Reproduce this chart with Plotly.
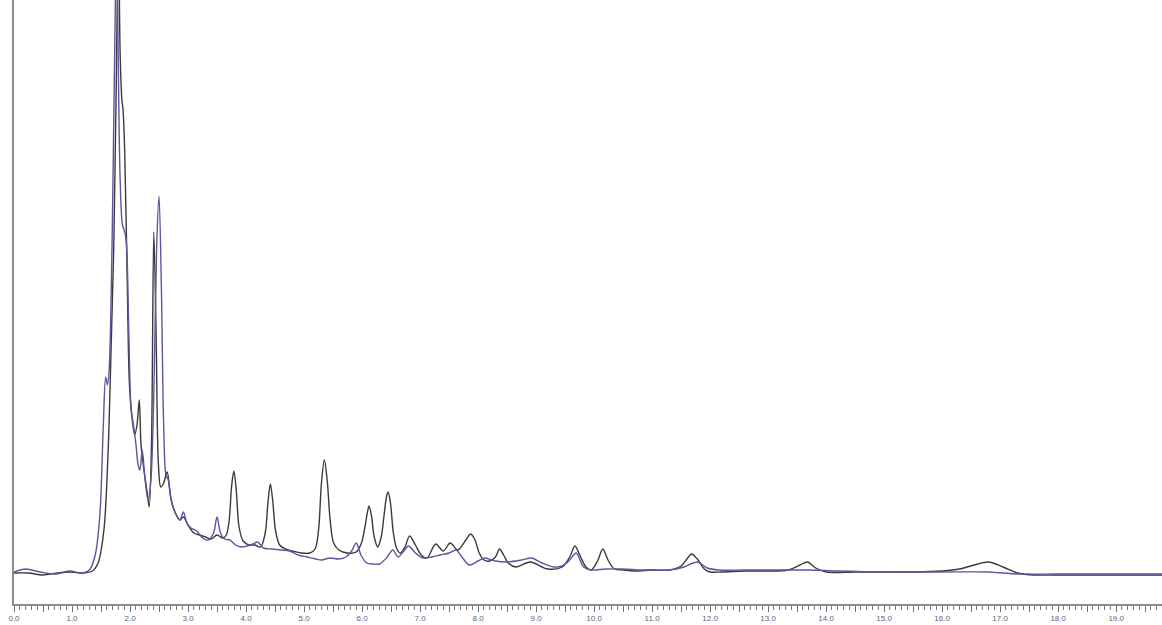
import plotly.graph_objects as go

# Retention time (min) and detector signal for the two overlaid runs
time_black = [0.00, 0.25, 0.50, 0.75, 0.97, 1.20, 1.35, 1.45, 1.55, 1.62, 1.68, 1.72, 1.76, 1.80,
              1.83, 1.86, 1.88, 1.91, 1.95, 1.99, 2.03, 2.08, 2.12, 2.16, 2.19, 2.24, 2.29, 2.33,
              2.37, 2.41, 2.45, 2.49, 2.53, 2.58, 2.64, 2.70, 2.78, 2.86, 2.92, 3.00, 3.10, 3.20,
              3.30, 3.40, 3.50, 3.60, 3.66, 3.71, 3.75, 3.79, 3.83, 3.88, 3.95, 4.05, 4.15, 4.25,
              4.33, 4.38, 4.42, 4.46, 4.51, 4.58, 4.68, 4.80, 4.95, 5.10, 5.19, 5.25, 5.30, 5.35,
              5.40, 5.45, 5.51, 5.60, 5.75, 5.90, 5.99, 6.05, 6.09, 6.12, 6.16, 6.21, 6.27, 6.33,
              6.38, 6.42, 6.45, 6.49, 6.54, 6.60, 6.66, 6.74, 6.82, 6.92, 7.02, 7.12, 7.27, 7.40,
              7.52, 7.65, 7.80, 7.87, 7.94, 8.02, 8.10, 8.20, 8.30, 8.37, 8.44, 8.52, 8.65, 8.90,
              9.20, 9.45, 9.58, 9.67, 9.76, 9.86, 9.95, 10.06, 10.15, 10.24, 10.35, 10.50, 10.70,
              11.00, 11.30, 11.50, 11.60, 11.68, 11.78, 11.90, 12.00, 12.20, 12.60, 13.00, 13.35,
              13.55, 13.68, 13.82, 14.00, 14.50, 15.00, 15.50, 16.00, 16.30, 16.55, 16.80, 17.05,
              17.30, 17.60, 18.00, 19.00, 19.85]
signal_black = [2, 2, 0, 2, 3, 2, 4, 12, 45, 120, 240, 330, 480, 640,
                520, 475, 465, 420, 300, 190, 160, 140, 150, 175, 130, 105, 85, 68,
                130, 343, 240, 110, 88, 92, 103, 78, 62, 55, 58, 50, 42, 40,
                38, 36, 40, 37, 40, 55, 88, 104, 86, 48, 34, 30, 30, 28,
                42, 74, 91, 74, 44, 30, 26, 24, 22, 22, 26, 45, 92, 115,
                94, 55, 32, 25, 22, 23, 32, 48, 62, 69, 60, 38, 28, 38,
                60, 78, 83, 72, 42, 26, 22, 28, 39, 30, 20, 17, 31, 24,
                32, 25, 36, 41, 36, 22, 15, 14, 18, 26, 20, 12, 8, 13,
                6, 8, 18, 29, 19, 8, 5, 14, 26, 15, 6, 5, 4,
                5, 5, 9, 16, 21, 16, 6, 3, 3, 4, 4, 5,
                10, 13, 7, 3, 3, 3, 3, 4, 6, 10, 13, 8,
                2, 0, 0, 0, 0]

time_purple = [0.00, 0.20, 0.45, 0.70, 0.97, 1.15, 1.30, 1.40, 1.48, 1.54, 1.58, 1.61, 1.64, 1.69,
               1.73, 1.77, 1.80, 1.83, 1.87, 1.91, 1.94, 1.98, 2.02, 2.06, 2.10, 2.14, 2.17, 2.21,
               2.26, 2.31, 2.36, 2.41, 2.46, 2.50, 2.54, 2.58, 2.62, 2.66, 2.72, 2.80, 2.86, 2.92,
               2.98, 3.05, 3.15, 3.25, 3.35, 3.44, 3.50, 3.56, 3.63, 3.72, 3.82, 3.92, 4.02, 4.12,
               4.20, 4.30, 4.45, 4.60, 4.75, 4.90, 5.05, 5.20, 5.30, 5.45, 5.60, 5.72, 5.82, 5.90,
               5.98, 6.08, 6.20, 6.30, 6.42, 6.53, 6.62, 6.72, 6.80, 6.92, 7.05, 7.20, 7.35, 7.50,
               7.62, 7.72, 7.85, 8.00, 8.12, 8.30, 8.50, 8.75, 8.92, 9.10, 9.30, 9.45, 9.58, 9.69,
               9.82, 9.95, 10.20, 10.50, 10.80, 11.00, 11.30, 11.55, 11.78, 11.95, 12.15, 12.60,
               13.20, 13.70, 14.20, 15.00, 16.00, 16.80, 17.30, 18.00, 19.85]
signal_purple = [3, 6, 3, 1, 4, 2, 5, 20, 60, 150, 198, 190, 205, 330,
                 500, 640, 500, 395, 350, 343, 330, 240, 165, 150, 132, 110, 105, 125,
                 95, 75, 95, 180, 330, 379, 290, 150, 100, 95, 72, 60, 55, 63,
                 52, 47, 44, 37, 35, 42, 58, 42, 36, 35, 30, 28, 29, 31,
                 33, 27, 26, 25, 24, 20, 18, 16, 15, 17, 16, 18, 24, 32,
                 20, 12, 11, 11, 17, 25, 18, 24, 29, 22, 17, 18, 20, 22,
                 25, 18, 10, 14, 17, 14, 13, 15, 17, 12, 8, 9, 15, 22,
                 8, 5, 6, 6, 5, 5, 5, 8, 13, 7, 5, 5,
                 5, 5, 4, 3, 3, 3, 1, 1, 1]

# Axis ticks: labelled every minute, plain ticks at half minutes
tick_values = [i * 0.5 for i in range(40)]
tick_labels = [f"{v:.1f}" if v == int(v) else "" for v in tick_values]

fig = go.Figure()
fig.add_trace(go.Scatter(
    x=time_black, y=signal_black, mode="lines",
    line=dict(color="#3a3a3a", width=1.4, shape="spline", smoothing=0.9),
    hoverinfo="skip",
))
fig.add_trace(go.Scatter(
    x=time_purple, y=signal_purple, mode="lines",
    line=dict(color="#5d55a0", width=1.4, shape="spline", smoothing=0.9),
    hoverinfo="skip",
))

fig.update_layout(
    width=1162, height=625,
    margin=dict(l=14, r=0, t=0, b=21),
    paper_bgcolor="white", plot_bgcolor="white",
    showlegend=False,
    xaxis=dict(
        range=[0, 19.79],
        showgrid=False, zeroline=False,
        showline=True, linecolor="#8c8c8c", linewidth=1.5,
        tickmode="array", tickvals=tick_values, ticktext=tick_labels,
        ticks="outside", ticklen=6, tickwidth=1, tickcolor="#6e6e6e",
        minor=dict(dtick=0.1, ticks="outside", ticklen=4, tickwidth=1, tickcolor="#7a7a7a"),
        tickfont=dict(family="Liberation Sans", size=8, color="#5f5f6f"),
    ),
    yaxis=dict(
        range=[-29, 575],
        showgrid=False, zeroline=False,
        showline=True, linecolor="#8c8c8c", linewidth=1.5,
        showticklabels=False, ticks="",
    ),
)

fig.write_html("out.html")
